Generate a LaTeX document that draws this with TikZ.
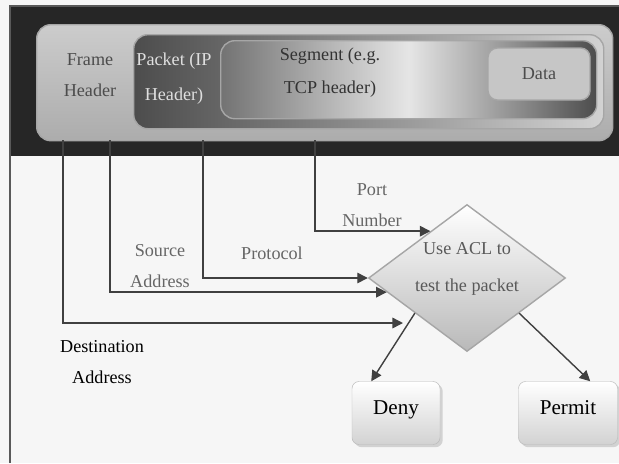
\documentclass[tikz,border=0pt]{standalone}
\usepackage{fontspec}
\setmainfont{Liberation Serif}
\usetikzlibrary{shapes.geometric,arrows.meta,shadows}
\begin{document}
\begin{tikzpicture}[x=0.03cm,y=-0.03cm,
    txt/.style={font=\fontsize{15.5}{26}\selectfont, align=center},
    hdr/.style={txt, text=black!60},
    pdu/.style={draw=gray!70, line width=1.2pt, rounded corners=12pt, anchor=north west, inner sep=0pt},
    wire/.style={draw=black!75, line width=1.2pt, -{Triangle[length=9pt,width=9pt]}},
    result/.style={draw=gray!55, rounded corners=6pt, minimum height=1.89cm,
      font=\fontsize{18}{22}\selectfont, top color=white, bottom color=gray!35,
      drop shadow={opacity=0.3}}]
  \useasboundingbox (0,0) rectangle (619,463);
  \fill[gray!7] (0,0) rectangle (619,463);
  \fill[black!85] (11,7) rectangle (619,156);
  \draw[black!65, line width=1.5pt] (10,463) -- (10,6) -- (619,6);

  \node[pdu, minimum width=17.28cm, minimum height=3.48cm, top color=gray!40, bottom color=gray!65] (frame) at (36,24) {};
  \node[pdu, minimum width=14.1cm, minimum height=2.82cm, left color=black!70, right color=gray!35] (packet) at (133,34) {};
  \node[pdu, minimum width=11.28cm, minimum height=2.34cm, left color=black!55, right color=black!70, middle color=gray!20] (segment) at (220,40) {};
  \node[pdu, minimum width=3.06cm, minimum height=1.56cm, fill=gray!45, rounded corners=8pt, anchor=center, hdr, text=black!70] (data) at (539,74) {Data};

  \node[hdr, text=black!70] (framelbl) at (90,75) {Frame\\Header};
  \node[hdr, text=gray!25] (packetlbl) at (174,79) {Packet (IP\\[4pt]Header)};
  \node[hdr, text=black!80] (segmentlbl) at (330,73) {Segment (e.g.\\[2pt]TCP header)};

  \node[diamond, draw=gray!70, line width=1.2pt, minimum width=5.91cm, minimum height=4.41cm, inner sep=0pt,
    top color=white, bottom color=gray!55] (acl) at (467,278) {};
  \node[hdr, text=black!65] (acllbl) at (467,269) {Use ACL to\\[6pt]test the packet};

  \node[result, minimum width=2.64cm] (deny) at (396,413) {\raisebox{10pt}{Deny}};
  \node[result, minimum width=2.97cm] (permit) at (568,413) {\raisebox{10pt}{Permit}};

  \coordinate (dst) at (63,140);
  \coordinate (src) at (110,140);
  \coordinate (proto) at (203,140);
  \coordinate (port) at (315,140);
  \coordinate (dstend) at (403,323);

  \draw[wire] (port) |- (acl.128);
  \draw[wire] (proto) |- (acl.west);
  \draw[wire] (src) |- (acl.190);
  \draw[wire] (dst) |- (dstend);
  \draw[wire] (acl.214) -- (deny.128);
  \draw[wire] (acl.326) -- (permit.55);

  \node[hdr] (portlbl) at (372,205) {Port\\Number};
  \node[hdr] (protolbl) at (272,253) {Protocol};
  \node[hdr] (srclbl) at (160,266) {Source\\Address};
  \node[txt] (dstlbl) at (102,362) {Destination\\Address};
\end{tikzpicture}
\end{document}
